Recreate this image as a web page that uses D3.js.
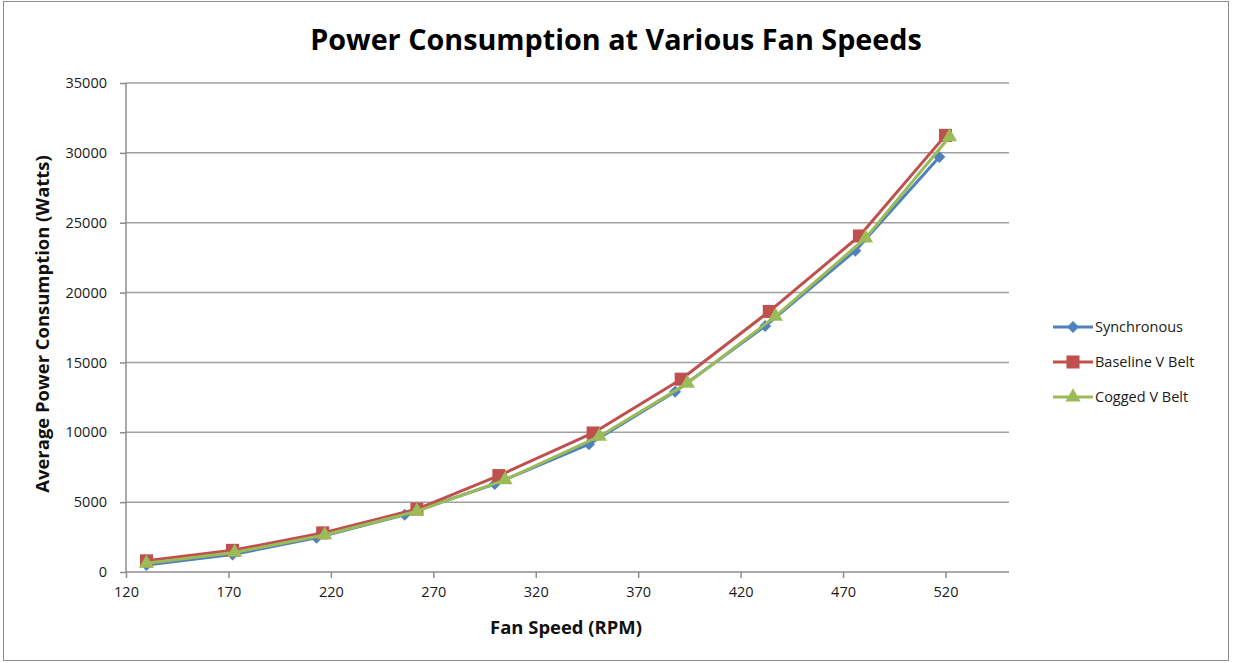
<!DOCTYPE html>
<html><head><meta charset="utf-8">
<script src="https://cdn.jsdelivr.net/npm/d3@7"></script>
<style>body{margin:0;background:#fff}svg{display:block}</style>
</head><body>
<svg id="c" width="1233" height="663"></svg>
<script>
const seriesNames = ["Synchronous", "Baseline V Belt", "Cogged V Belt"];
const syncX = [130, 172, 213, 256, 300, 346, 388, 432, 476, 517];
const syncY = [500, 1250, 2450, 4100, 6300, 9150, 12900, 17600, 23000, 29700];
const baseX = [130, 172, 216, 262, 302, 348, 391, 434, 478, 520];
const baseY = [800, 1550, 2800, 4500, 6900, 9950, 13800, 18650, 24050, 31250];
const cogX  = [130, 173, 217, 262, 305, 351, 394, 437, 481, 522];
const cogY  = [620, 1400, 2650, 4350, 6600, 9700, 13500, 18300, 23900, 31150];
const xTicks = [120, 170, 220, 270, 320, 370, 420, 470, 520];
const yTicks = [0, 5000, 10000, 15000, 20000, 25000, 30000, 35000];
const titleText = "Power Consumption at Various Fan Speeds";
const xTitle = "Fan Speed (RPM)";
const yTitle = "Average Power Consumption (Watts)";

const colors = ["#4F81BD", "#C0504D", "#9BBB59"];
const shapes = [d3.symbolSquare, d3.symbolSquare, d3.symbolTriangle];
const rotations = [45, 0, 0];
const symSizes = [72, 170, 100];
const FONT = "'Open Sans', 'Liberation Sans', sans-serif";

const svg = d3.select("#c");
svg.append("rect").attr("x", 3.5).attr("y", 1.5).attr("width", 1225).attr("height", 659)
  .attr("fill", "#fff").attr("stroke", "#8c8c8c").attr("stroke-width", 1);

const x = d3.scaleLinear().domain([120, 551]).range([126, 1009]);
const y = d3.scaleLinear().domain([0, 35000]).range([572, 83]);

// gridlines
svg.append("g").selectAll("line").data(yTicks.filter(v => v > 0)).join("line")
  .attr("x1", x(120)).attr("x2", x(551)).attr("y1", d => y(d)).attr("y2", d => y(d))
  .attr("stroke", "#a0a0a0").attr("stroke-width", 1.5);

// axes
const yAxis = svg.append("g").attr("transform", `translate(${x(120)},0)`)
  .call(d3.axisLeft(y).tickValues(yTicks).tickSize(6).tickPadding(13).tickFormat(d3.format("d")));
const xAxis = svg.append("g").attr("transform", `translate(0,${y(0)})`)
  .call(d3.axisBottom(x).tickValues(xTicks).tickSize(6).tickPadding(9).tickFormat(d3.format("d")));
[xAxis, yAxis].forEach(g => {
  g.select(".domain").attr("stroke", "#8c8c8c").attr("stroke-width", 1.5);
  g.selectAll(".tick line").attr("stroke", "#8c8c8c").attr("stroke-width", 1.5);
  g.selectAll("text").attr("font-family", FONT).attr("font-size", 14.5).attr("fill", "#1a1a1a");
});
xAxis.select(".domain").attr("d", `M${x(120)},0H${x(551)}`);
yAxis.select(".domain").attr("d", `M0,${y(0)}V${y(35000)}`);

const data = [
  syncX.map((v, i) => [v, syncY[i]]),
  baseX.map((v, i) => [v, baseY[i]]),
  cogX.map((v, i) => [v, cogY[i]])
];
const line = d3.line().x(d => x(d[0])).y(d => y(d[1]));
data.forEach((s, k) => {
  const g = svg.append("g");
  g.append("path").datum(s).attr("d", line).attr("fill", "none")
    .attr("stroke", colors[k]).attr("stroke-width", 3).attr("stroke-linejoin", "round");
  g.selectAll("path.m").data(s).join("path").attr("class", "m")
    .attr("transform", d => `translate(${x(d[0])},${y(d[1])}) rotate(${rotations[k]})`)
    .attr("d", d3.symbol().type(shapes[k]).size(symSizes[k])).attr("fill", colors[k]);
});

// title
function fitText(sel, w) {
  const len = sel.node().getComputedTextLength();
  const fs = parseFloat(sel.attr("font-size"));
  sel.attr("font-size", fs * w / len);
}
const t = svg.append("text").attr("x", 616).attr("y", 50).attr("text-anchor", "middle")
  .attr("font-family", FONT).attr("font-weight", "bold").attr("font-size", 26).attr("fill", "#000").text(titleText);
fitText(t, 612);
const xt = svg.append("text").attr("x", 566).attr("y", 634).attr("text-anchor", "middle")
  .attr("font-family", FONT).attr("font-weight", "bold").attr("font-size", 15).attr("fill", "#111").text(xTitle);
fitText(xt, 152);
const yt = svg.append("text").attr("transform", "translate(49,324) rotate(-90)").attr("text-anchor", "middle")
  .attr("font-family", FONT).attr("font-weight", "bold").attr("font-size", 15).attr("fill", "#111").text(yTitle);
fitText(yt, 338);

// legend
const lg = svg.append("g");
seriesNames.forEach((n, k) => {
  const ly = 327 + k * 35;
  lg.append("line").attr("x1", 1053).attr("x2", 1093).attr("y1", ly).attr("y2", ly)
    .attr("stroke", colors[k]).attr("stroke-width", 3);
  lg.append("path").attr("transform", `translate(1073,${ly}) rotate(${rotations[k]})`)
    .attr("d", d3.symbol().type(shapes[k]).size(symSizes[k])).attr("fill", colors[k]);
  lg.append("text").attr("x", 1095).attr("y", ly).attr("dy", "0.35em")
    .attr("font-family", FONT).attr("font-size", 14.5).attr("fill", "#1a1a1a").text(n);
});
</script>
</body></html>
